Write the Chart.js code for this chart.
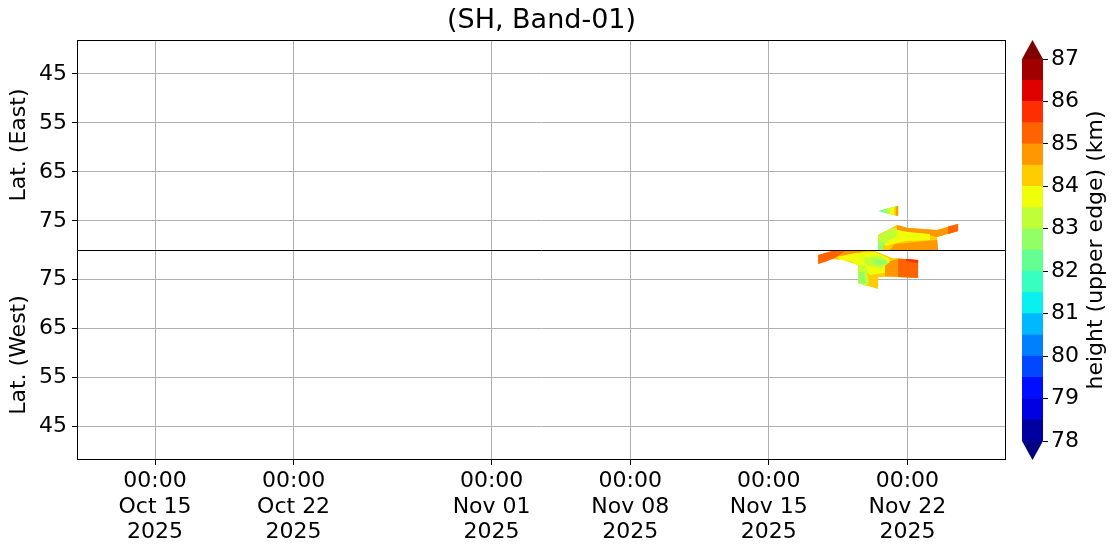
<!DOCTYPE html>
<html>
<head>
<meta charset="utf-8">
<script src="https://cdn.jsdelivr.net/npm/chart.js@4.4.1/dist/chart.umd.min.js"></script>
<style>
  html, body { margin: 0; padding: 0; background: #fff; }
  #wrap { position: relative; width: 1118px; height: 556px; }
  #mainChart { position: absolute; left: 0; top: 0; }
  #barChart { position: absolute; left: 1006px; top: 0; }
</style>
</head>
<body>
<div id="wrap">
  <canvas id="mainChart" width="1118" height="556"></canvas>
  <canvas id="barChart" width="112" height="556"></canvas>
</div>
<script>
// x values are days since 2025-10-01 00:00
let xMin = 10.06;
let xMax = 56.98;
let xTickDays = [14, 21, 31, 38, 45, 52];
let xTickLabels = [
    ["00:00", "Oct 15", "2025"],
    ["00:00", "Oct 22", "2025"],
    ["00:00", "Nov 01", "2025"],
    ["00:00", "Nov 08", "2025"],
    ["00:00", "Nov 15", "2025"],
    ["00:00", "Nov 22", "2025"]
];
let latMin = 38.07;
let latMax = 80.93;
let latTicks = [45, 55, 65, 75];

// colour bar levels (km) and jet colours of each band
let levelEdges = [78.0, 78.5, 79.0, 79.5, 80.0, 80.5, 81.0, 81.5, 82.0, 82.5,
                  83.0, 83.5, 84.0, 84.5, 85.0, 85.5, 86.0, 86.5, 87.0];
let bandColors = ["#0000a0", "#0000e0", "#000eff", "#0047ff", "#0080ff", "#00b8ff",
                  "#09f1ee", "#37ffc0", "#64ff92", "#92ff64", "#c0ff37", "#eeff09",
                  "#ffcc00", "#ff9700", "#ff6300", "#ff2e00", "#e00000", "#a00000"];
let underColor = "#000080";
let overColor = "#800000";
let cbTicks = [78, 79, 80, 81, 82, 83, 84, 85, 86, 87];

// filled height regions, [day, lat], with the lower edge of their band
let eastShapes = [
    [[50.52, 72.96], [51.53, 71.94], [51.53, 73.98]],
    [[50.77, 72.70], [51.53, 71.94], [51.53, 73.98], [50.77, 73.22]],
    [[50.97, 72.50], [51.53, 71.94], [51.53, 73.98], [50.97, 73.42]],
    [[51.13, 72.35], [51.53, 71.94], [51.53, 73.98], [51.13, 73.57]],
    [[51.33, 72.14], [51.53, 71.94], [51.53, 73.98], [51.33, 73.78]],
    [[51.43, 72.04], [51.53, 71.94], [51.53, 73.98], [51.43, 73.88]],
    [[50.52, 77.86], [51.47, 75.82], [52.03, 76.43], [53.50, 76.84], [54.56, 75.61],
     [54.56, 77.04], [53.50, 78.27], [53.55, 80.93], [50.52, 80.93]],
    [[51.47, 75.82], [52.03, 76.43], [53.50, 76.84], [54.56, 75.61], [54.56, 77.04],
     [53.50, 78.27], [52.89, 77.65], [52.03, 77.45], [51.47, 76.84]],
    [[54.05, 76.12], [54.56, 75.61], [54.56, 77.04], [54.05, 77.65]],
    [[51.37, 79.69], [53.50, 78.88], [53.55, 80.93], [51.12, 80.93]],
    [[50.72, 78.06], [51.47, 76.84], [52.03, 77.25], [53.14, 77.65], [53.14, 78.88],
     [51.88, 79.08], [50.87, 80.10]],
    [[50.52, 78.06], [51.12, 76.63], [51.47, 76.43], [51.47, 78.06], [50.87, 79.49], [50.52, 80.10]],
    [[50.52, 79.08], [50.82, 79.49], [50.77, 80.93], [50.52, 80.93]]
];
let eastLevels = [82.0, 82.5, 83.0, 83.5, 84.0, 84.5, 84.0, 84.5, 85.0, 84.5, 83.5, 83.0, 82.5];

let westShapes = [
    [[47.49, 79.90], [48.19, 80.71], [48.34, 80.93], [50.21, 80.93], [50.36, 80.71],
     [51.22, 79.29], [52.54, 78.88], [52.54, 75.20], [51.27, 75.41], [50.52, 75.41],
     [50.52, 72.96], [49.51, 74.18], [49.51, 77.86], [48.75, 78.88], [48.09, 79.08], [47.49, 78.06]],
    [[48.19, 80.71], [49.86, 80.71], [49.35, 80.10], [48.50, 79.69], [47.89, 78.67], [47.69, 78.88]],
    [[47.49, 79.90], [48.19, 80.71], [48.85, 80.71], [48.34, 79.29], [47.84, 78.47], [47.49, 78.06]],
    [[48.50, 79.49], [49.35, 80.31], [50.36, 80.51], [51.02, 79.29], [51.37, 77.86],
     [50.87, 76.22], [50.11, 75.82], [49.71, 77.25], [49.10, 78.67], [48.60, 78.88]],
    [[50.87, 78.27], [51.53, 79.18], [51.63, 75.41], [50.87, 75.61]],
    [[51.53, 79.18], [52.54, 78.88], [52.54, 75.20], [51.53, 75.41]],
    [[51.93, 79.08], [52.54, 78.88], [52.54, 78.27], [51.93, 78.67]],
    [[49.71, 79.29], [50.62, 79.69], [51.12, 78.47], [50.72, 77.25], [50.01, 77.65]],
    [[49.51, 77.86], [49.91, 77.65], [50.06, 74.18], [49.91, 73.57], [49.51, 74.18]],
    [[50.21, 79.08], [50.87, 78.88], [50.97, 78.06], [50.41, 77.86]],
    [[49.56, 76.43], [49.81, 76.43], [49.86, 73.98], [49.56, 74.18]]
];
let westLevels = [84.0, 84.5, 85.0, 83.5, 84.5, 85.0, 85.5, 83.0, 83.0, 82.5, 82.5];

Chart.defaults.font.family = "'DejaVu Sans', sans-serif";
Chart.defaults.color = "#000";

function bandColor(level) {
    return bandColors[levelEdges.indexOf(level)];
}

let datasets = [];
function addShapes(shapes, levels, axisId) {
    shapes.forEach((pts, i) => {
        datasets.push({
            type: "scatter",
            data: pts.map(p => ({ x: p[0], y: p[1] })),
            yAxisID: axisId,
            showLine: true,
            fill: "shape",
            tension: 0,
            pointRadius: 0,
            borderWidth: 0,
            borderColor: "rgba(0,0,0,0)",
            backgroundColor: bandColor(levels[i])
        });
    });
}
addShapes(eastShapes, eastLevels, "yE");
addShapes(westShapes, westLevels, "yW");
// first region is painted first
datasets.forEach((d, i) => { d.order = 1000 - i; });

let gridStyle = { color: "#b0b0b0", lineWidth: 1, tickLength: 5, tickColor: "#000" };
let tickFont = { size: 22, lineHeight: 1.15 };

function latAxis(title, reverse) {
    return {
        type: "linear",
        position: "left",
        stack: "lat",
        stackWeight: 1,
        reverse: reverse,
        min: latMin,
        max: latMax,
        z: 1,
        afterBuildTicks: s => { s.ticks = latTicks.map(v => ({ value: v })); },
        afterFit: s => { s.width = 77; },
        ticks: { font: tickFont, color: "#000", padding: 5, callback: v => String(v) },
        grid: gridStyle,
        border: { display: false },
        title: { display: true, text: title, font: { size: 22 }, color: "#000", padding: { top: 6, bottom: 0 } }
    };
}

// axes frame and the line between the two panels
let framePlugin = {
    id: "frame",
    afterDraw(chart) {
        let a = chart.chartArea;
        let ctx = chart.ctx;
        let mid = chart.scales.yE.bottom;
        ctx.save();
        ctx.strokeStyle = "#000";
        ctx.lineWidth = 1;
        ctx.strokeRect(a.left + 0.5, a.top + 0.5, a.right - a.left - 1, a.bottom - a.top - 1);
        ctx.beginPath();
        ctx.moveTo(a.left, Math.round(mid) + 0.5);
        ctx.lineTo(a.right, Math.round(mid) + 0.5);
        ctx.stroke();
        ctx.restore();
    }
};

new Chart(document.getElementById("mainChart"), {
    type: "scatter",
    data: { datasets: datasets },
    options: {
        responsive: false,
        animation: false,
        devicePixelRatio: 1,
        layout: { padding: { left: 0, right: 112, top: 0, bottom: 0 } },
        plugins: {
            legend: { display: false },
            tooltip: { enabled: false },
            title: {
                display: true,
                fullSize: false,
                text: "(SH, Band-01)",
                color: "#000",
                font: { size: 27, weight: "normal", lineHeight: 1.2 },
                padding: { top: 5, bottom: 2.6 }
            }
        },
        scales: {
            x: {
                type: "linear",
                min: xMin,
                max: xMax,
                z: 1,
                afterBuildTicks: s => { s.ticks = xTickDays.map(v => ({ value: v })); },
                afterFit: s => { s.height = 96; },
                ticks: {
                    font: tickFont, color: "#000", padding: 4, maxRotation: 0, autoSkip: false,
                    callback: (v, i) => xTickLabels[i]
                },
                grid: gridStyle,
                border: { display: false }
            },
            yW: latAxis("Lat. (West)", false),
            yE: latAxis("Lat. (East)", true)
        }
    },
    plugins: [framePlugin]
});

// colour bar: extension triangles and rotated label
let colorbarExtras = {
    id: "cbExtras",
    afterDraw(chart) {
        let a = chart.chartArea;
        let ctx = chart.ctx;
        let ext = (a.bottom - a.top) * 0.05;
        let cx = (a.left + a.right) / 2;
        ctx.save();
        ctx.fillStyle = overColor;
        ctx.beginPath();
        ctx.moveTo(a.left, a.top);
        ctx.lineTo(a.right, a.top);
        ctx.lineTo(cx, a.top - ext);
        ctx.closePath();
        ctx.fill();
        ctx.fillStyle = underColor;
        ctx.beginPath();
        ctx.moveTo(a.left, a.bottom);
        ctx.lineTo(a.right, a.bottom);
        ctx.lineTo(cx, a.bottom + ext);
        ctx.closePath();
        ctx.fill();
        ctx.translate(90, (a.top + a.bottom) / 2);
        ctx.rotate(-Math.PI / 2);
        ctx.fillStyle = "#000";
        ctx.font = "22px 'DejaVu Sans', sans-serif";
        ctx.textAlign = "center";
        ctx.textBaseline = "middle";
        ctx.fillText("height (upper edge) (km)", 0, 0);
        ctx.restore();
    }
};

new Chart(document.getElementById("barChart"), {
    type: "bar",
    data: {
        labels: [""],
        datasets: bandColors.map((c, i) => ({
            data: [[levelEdges[i], levelEdges[i + 1]]],
            backgroundColor: c,
            borderWidth: 0,
            grouped: false,
            categoryPercentage: 1,
            barPercentage: 1
        }))
    },
    options: {
        responsive: false,
        animation: false,
        devicePixelRatio: 1,
        layout: { padding: { left: 16, right: 0, top: 59, bottom: 115 } },
        plugins: { legend: { display: false }, tooltip: { enabled: false } },
        scales: {
            x: { display: false },
            y: {
                position: "right",
                min: 78,
                max: 87,
                afterBuildTicks: s => { s.ticks = cbTicks.map(v => ({ value: v })); },
                afterFit: s => { s.width = 75; },
                ticks: { font: { size: 22 }, color: "#000", padding: 3 },
                grid: { drawOnChartArea: false, tickLength: 5, tickColor: "#000" },
                border: { display: false }
            }
        }
    },
    plugins: [colorbarExtras]
});
</script>
</body>
</html>
